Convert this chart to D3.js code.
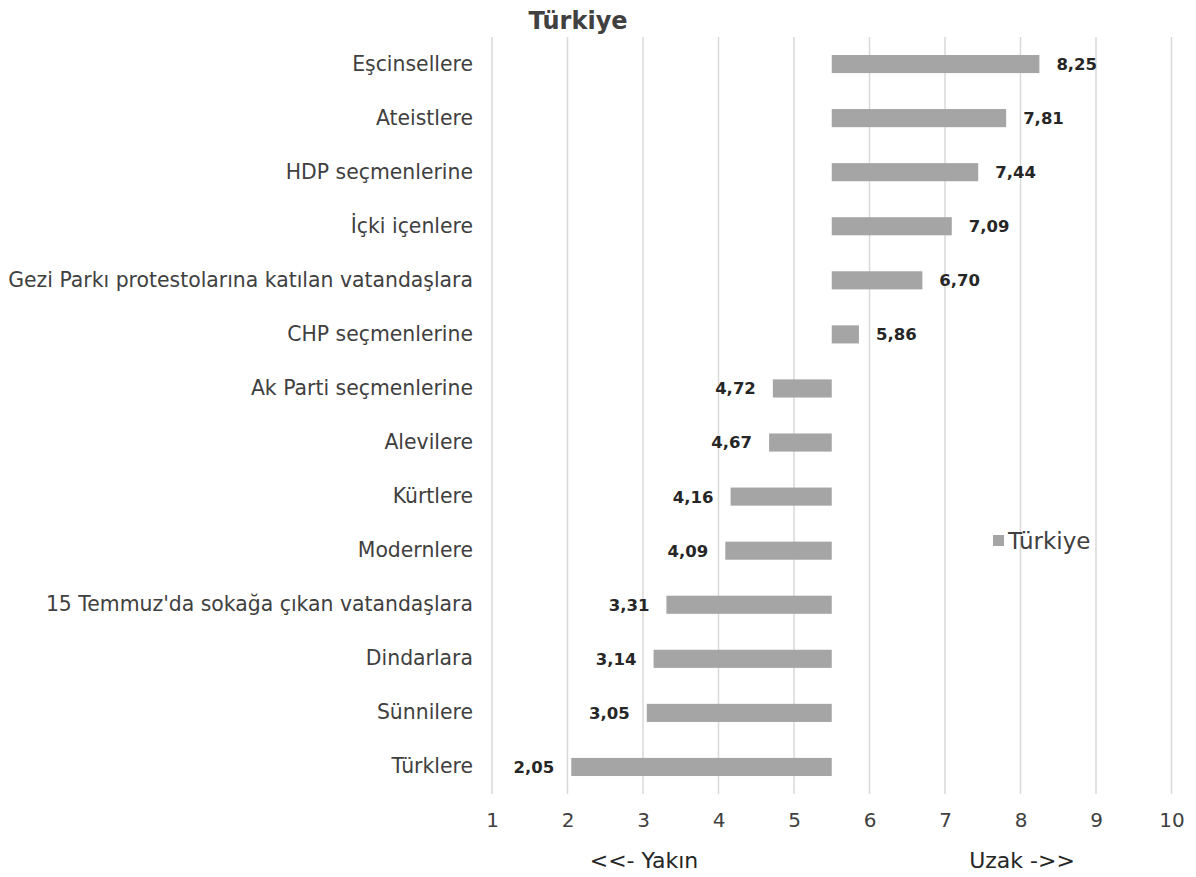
<!DOCTYPE html>
<html>
<head>
<meta charset="utf-8">
<script src="https://cdn.jsdelivr.net/npm/d3@7"></script>
<style>
  body { margin: 0; background: #fff; }
  text { font-family: "DejaVu Sans", sans-serif; }
</style>
</head>
<body>
<div id="chart"></div>
<script>
//data
var categories = ["Eşcinsellere", "Ateistlere", "HDP seçmenlerine", "İçki içenlere",
  "Gezi Parkı protestolarına katılan vatandaşlara", "CHP seçmenlerine", "Ak Parti seçmenlerine",
  "Alevilere", "Kürtlere", "Modernlere", "15 Temmuz'da sokağa çıkan vatandaşlara",
  "Dindarlara", "Sünnilere", "Türklere"];
var values = [8.25, 7.81, 7.44, 7.09, 6.70, 5.86, 4.72, 4.67, 4.16, 4.09, 3.31, 3.14, 3.05, 2.05];
var xTicks = [1, 2, 3, 4, 5, 6, 7, 8, 9, 10];
var baseline = 5.5;
var seriesName = "Türkiye";

//layout
var W = 1196, H = 877;
var area = { left: 492, right: 1171.5, top: 37, bottom: 794 },
    color = { bar: "#a5a5a5", grid: "#d9d9d9", text: "#404040", label: "#262626" };

var svg = d3.select("#chart").append("svg").attr("width", W).attr("height", H);

var x = d3.scaleLinear().domain([1, 10]).range([area.left, area.right]);
var y = d3.scaleBand().domain(categories).range([area.top, area.bottom]).paddingInner(0.665).paddingOuter(0.3325);

// gridlines
svg.append("g").selectAll("line").data(xTicks).enter().append("line")
   .attr("x1", function(d) { return x(d); }).attr("x2", function(d) { return x(d); })
   .attr("y1", area.top).attr("y2", area.bottom)
   .attr("stroke", color.grid).attr("stroke-width", 1.5);

// x axis labels
var xAxis = d3.axisBottom(x).tickValues(xTicks).tickSize(0).tickPadding(0).tickFormat(d3.format("d"));
var gx = svg.append("g").attr("transform", "translate(0," + area.bottom + ")").call(xAxis);
gx.select(".domain").remove();
gx.selectAll("text").attr("dy", 0).attr("y", 33).attr("fill", color.text)
  .style("font-size", "20px").style("font-family", "'DejaVu Sans', sans-serif");

// bars
svg.append("g").selectAll("rect").data(values).enter().append("rect")
   .attr("x", function(d) { return x(Math.min(d, baseline)); })
   .attr("y", function(d, i) { return y(categories[i]); })
   .attr("width", function(d) { return Math.abs(x(d) - x(baseline)); })
   .attr("height", y.bandwidth())
   .attr("fill", color.bar);

// value labels
svg.append("g").selectAll("text").data(values).enter().append("text")
   .attr("x", function(d) { return d > baseline ? x(d) + 17 : x(d) - 17; })
   .attr("y", function(d, i) { return y(categories[i]) + y.bandwidth() / 2; })
   .attr("dy", "0.36em")
   .attr("text-anchor", function(d) { return d > baseline ? "start" : "end"; })
   .attr("fill", color.label).attr("font-weight", "bold")
   .style("font-family", "'DejaVu Sans', sans-serif").style("font-size", "16.5px")
   .text(function(d) { return d.toFixed(2).replace(".", ","); });

// category labels
var yAxis = d3.axisLeft(y).tickSize(0).tickPadding(0);
var gy = svg.append("g").attr("transform", "translate(473,0)").call(yAxis);
gy.select(".domain").remove();
gy.selectAll("text").attr("fill", color.text)
  .style("font-size", "20.4px").style("font-family", "'DejaVu Sans', sans-serif");

// title
svg.append("text").attr("x", 578).attr("y", 29).attr("text-anchor", "middle")
   .attr("fill", color.text).attr("font-weight", "bold").style("font-size", "24px")
   .text(seriesName);

// axis side captions
svg.append("text").attr("x", 644).attr("y", 868).attr("text-anchor", "middle")
   .attr("fill", color.label).style("font-size", "22px").text("<<- Yakın");
svg.append("text").attr("x", 1022).attr("y", 868).attr("text-anchor", "middle")
   .attr("fill", color.label).style("font-size", "22px").text("Uzak ->>");

// legend
var legend = svg.append("g").attr("transform", "translate(993,535)");
legend.append("rect").attr("width", 11).attr("height", 11).attr("fill", color.bar);
legend.append("text").attr("x", 15).attr("y", 5.5).attr("dy", "0.36em")
      .attr("fill", color.text).style("font-size", "23px").text(seriesName);
</script>
</body>
</html>
